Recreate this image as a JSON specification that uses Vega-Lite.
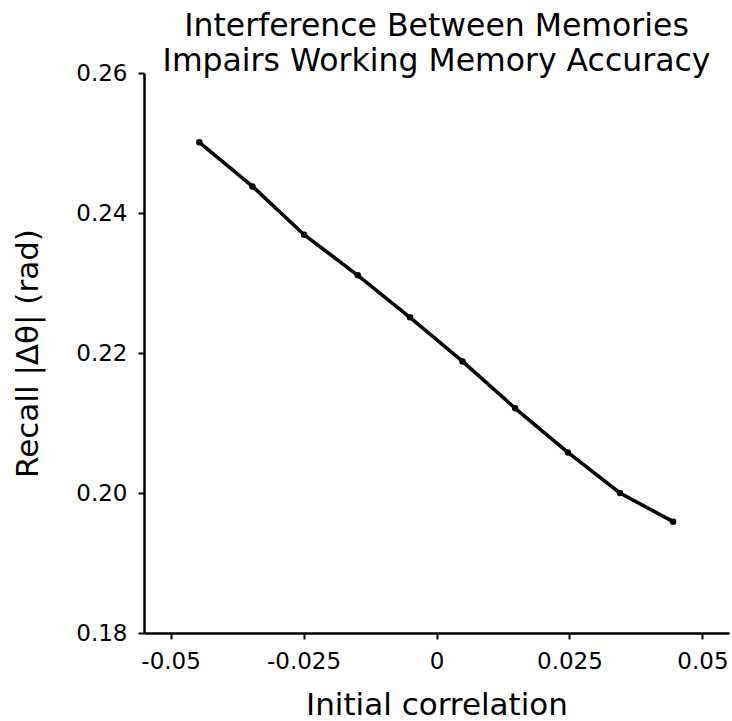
{
  "$schema": "https://vega.github.io/schema/vega-lite/v6.json",
  "autosize": {"type": "none"},
  "width": 585,
  "height": 560,
  "padding": {"left": 144, "top": 73, "right": 3, "bottom": 88},
  "background": "white",
  "config": {
    "font": "DejaVu Sans",
    "view": {"stroke": null},
    "axis": {"grid": false}
  },
  "title": {
    "text": ["Interference Between Memories", "Impairs Working Memory Accuracy"],
    "fontSize": 31.5,
    "fontWeight": "normal",
    "font": "DejaVu Sans",
    "color": "black",
    "lineHeight": 35,
    "anchor": "middle",
    "offset": -15
  },
  "data": {
    "values": [
      {"corr": -0.0446, "recall": 0.2501},
      {"corr": -0.0346, "recall": 0.2438},
      {"corr": -0.0249, "recall": 0.2369},
      {"corr": -0.0148, "recall": 0.2311},
      {"corr": -0.0050, "recall": 0.2251},
      {"corr": 0.0049, "recall": 0.2188},
      {"corr": 0.0148, "recall": 0.2121},
      {"corr": 0.0247, "recall": 0.2058},
      {"corr": 0.0345, "recall": 0.2000},
      {"corr": 0.0445, "recall": 0.1959}
    ]
  },
  "encoding": {
    "x": {
      "field": "corr",
      "type": "quantitative",
      "scale": {"domain": [-0.055, 0.055], "nice": false, "zero": false},
      "axis": {
        "title": "Initial correlation",
        "values": [-0.05, -0.025, 0, 0.025, 0.05],
        "labelExpr": "datum.value == 0 ? '0' : replace(format(datum.value, '~g'), '\u2212', '-')",
        "labelFontSize": 23,
        "labelColor": "black",
        "labelPadding": 11,
        "labelFlush": false,
        "titleFontSize": 31,
        "titleFontWeight": "normal",
        "titleColor": "black",
        "titlePadding": 17,
        "domainColor": "black",
        "domainWidth": 2.5,
        "tickColor": "black",
        "tickWidth": 2,
        "tickSize": 6
      }
    },
    "y": {
      "field": "recall",
      "type": "quantitative",
      "scale": {"domain": [0.18, 0.26], "nice": false, "zero": false},
      "axis": {
        "title": "Recall |Δθ| (rad)",
        "values": [0.18, 0.2, 0.22, 0.24, 0.26],
        "format": ".2f",
        "labelFontSize": 23,
        "labelColor": "black",
        "labelPadding": 11,
        "labelFlush": false,
        "titleFontSize": 31,
        "titleFontWeight": "normal",
        "titleColor": "black",
        "titlePadding": 31,
        "domainColor": "black",
        "domainWidth": 2.5,
        "tickColor": "black",
        "tickWidth": 2,
        "tickSize": 6
      }
    }
  },
  "layer": [
    {"mark": {"type": "line", "color": "black", "strokeWidth": 3.6}},
    {"mark": {"type": "point", "filled": true, "color": "black", "opacity": 1, "size": 42}}
  ]
}
